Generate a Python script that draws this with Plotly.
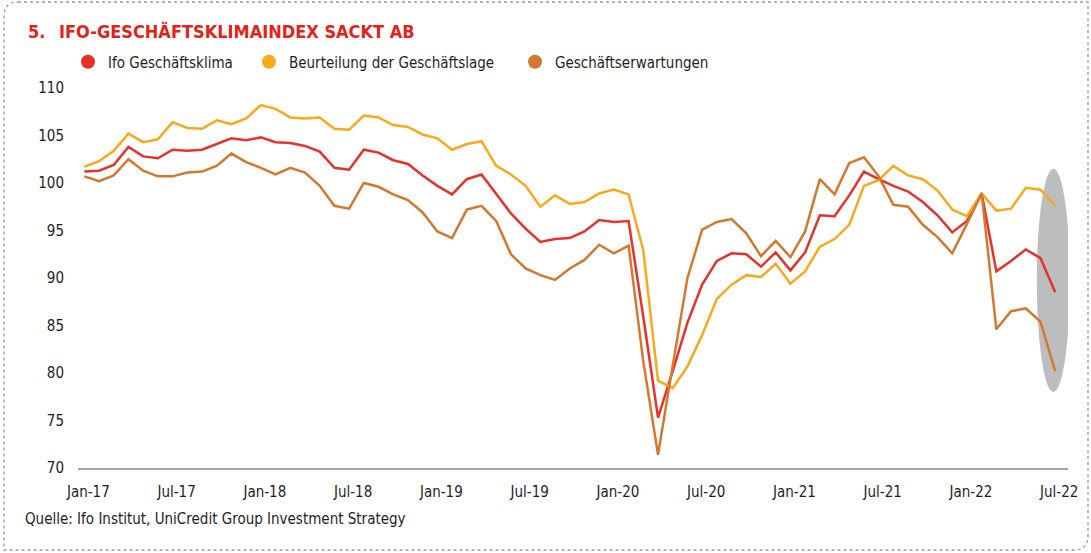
import plotly.graph_objects as go
import pandas as pd

# ---------------- data ----------------
MONTHS = [d.strftime("%b-%y") for d in pd.date_range("2017-01-01", "2022-07-01", freq="MS")]

KLIMA = [101.2, 101.3, 101.9, 103.8, 102.8, 102.6, 103.5, 103.4, 103.5, 104.1, 104.7, 104.5,
         104.8, 104.3, 104.2, 103.9, 103.3, 101.6, 101.4, 103.5, 103.2, 102.4, 102.0, 100.8,
         99.7, 98.8, 100.4, 100.9, 98.9, 96.8, 95.2, 93.8, 94.1, 94.2, 94.9, 96.1,
         95.9, 96.0, 85.9, 75.3, 80.2, 85.3, 89.3, 91.8, 92.6, 92.5, 91.2, 92.7,
         90.8, 92.7, 96.6, 96.5, 98.7, 101.2, 100.4, 99.7, 99.1, 98.0, 96.6, 94.8,
         96.0, 98.9, 90.7, 91.8, 93.0, 92.1, 88.5]

LAGE = [101.7, 102.3, 103.4, 105.2, 104.3, 104.6, 106.4, 105.8, 105.7, 106.6, 106.2, 106.8,
        108.2, 107.8, 106.9, 106.8, 106.9, 105.7, 105.6, 107.1, 106.9, 106.1, 105.9, 105.1,
        104.7, 103.5, 104.1, 104.4, 101.8, 100.9, 99.7, 97.5, 98.7, 97.8, 98.0, 98.9,
        99.3, 98.8, 92.9, 79.2, 78.4, 80.7, 84.0, 87.8, 89.3, 90.3, 90.1, 91.5,
        89.4, 90.7, 93.3, 94.1, 95.6, 99.7, 100.3, 101.8, 100.8, 100.4, 99.2, 97.2,
        96.5, 98.9, 97.1, 97.3, 99.5, 99.3, 97.6]

ERWARTUNGEN = [100.7, 100.2, 100.8, 102.5, 101.3, 100.7, 100.7, 101.1, 101.2, 101.8, 103.1, 102.2,
               101.6, 100.9, 101.6, 101.1, 99.7, 97.6, 97.3, 100.0, 99.6, 98.8, 98.2, 96.9,
               94.9, 94.2, 97.2, 97.6, 96.0, 92.5, 91.0, 90.3, 89.8, 91.0, 91.9, 93.5,
               92.6, 93.4, 81.2, 71.4, 80.8, 90.0, 95.1, 95.9, 96.2, 94.7, 92.3, 93.9,
               92.2, 94.9, 100.4, 98.8, 102.1, 102.7, 100.7, 97.7, 97.5, 95.6, 94.3, 92.6,
               95.7, 98.9, 84.6, 86.5, 86.8, 85.4, 80.2]

SERIES_NAMES = ["Ifo Geschäftsklima", "Beurteilung der Geschäftslage", "Geschäftserwartungen"]
TICK_LABELS = ["Jan-17", "Jul-17", "Jan-18", "Jul-18", "Jan-19", "Jul-19",
               "Jan-20", "Jul-20", "Jan-21", "Jul-21", "Jan-22", "Jul-22"]
Y_TICKS = [70, 75, 80, 85, 90, 95, 100, 105, 110]

COLORS = ["#E8312A", "#F9A91B", "#D5782E"]
FONT = "Liberation Sans Narrow, DejaVu Sans Condensed, Arial Narrow, sans-serif"
TEXT = "#1e1e1e"

W, H = 1091, 553
L, R, T, B = 78, 23, 88, 85
PW, PH = W - L - R, H - T - B


def px2paper(x, y):
    return (x - L) / PW, (H - B - y) / PH


fig = go.Figure()
x = list(range(len(MONTHS)))
for name, vals, col in zip(SERIES_NAMES, [KLIMA, LAGE, ERWARTUNGEN], COLORS):
    fig.add_trace(go.Scatter(x=x, y=vals, mode="lines", name=name,
                             line=dict(color=col, width=2.5), showlegend=False,
                             hovertemplate="%{text}: %{y}<extra>" + name + "</extra>",
                             text=MONTHS))

# legend entries (dot symbols), one legend each so they sit where the reference has them
LEGEND_X_PX = [68, 249, 515]
legend_layout = {}
for k, (name, col, lxp) in enumerate(zip(SERIES_NAMES, COLORS, LEGEND_X_PX)):
    key = "legend" if k == 0 else f"legend{k+1}"
    fig.add_trace(go.Scatter(x=[None], y=[None], mode="markers", name=name,
                             legend=key, marker=dict(color=col, size=14, symbol="circle")))
    lx, ly = px2paper(lxp, 62)
    legend_layout[key] = dict(orientation="h", x=lx, y=ly, xanchor="left", yanchor="middle",
                              font=dict(family=FONT, size=15, color=TEXT),
                              bgcolor="rgba(0,0,0,0)", itemclick=False, itemdoubleclick=False)

# highlight ellipse around the latest readings
n = len(MONTHS) - 1
last = [KLIMA[-1], LAGE[-1], ERWARTUNGEN[-1]]
fig.add_shape(type="circle", xref="x", yref="y", layer="below",
              x0=n - 1.25, x1=n + 1.0, y0=min(last) - 2.2, y1=max(last) + 3.9,
              fillcolor="#BCBDBF", line=dict(width=0))

# dotted frame with rounded corners (top-left, bottom-right)
x0, y0 = px2paper(4, 2)
x1, y1 = px2paper(1088, 550)
rx, ry = 14 / PW, 14 / PH
path = (f"M {x0+rx},{y0} L {x1},{y0} L {x1},{y1+ry} Q {x1},{y1} {x1-rx},{y1} "
        f"L {x0},{y1} L {x0},{y0-ry} Q {x0},{y0} {x0+rx},{y0} Z")
fig.add_shape(type="path", xref="paper", yref="paper", path=path,
              line=dict(color="#9A9A9A", width=1.3, dash="dot"), layer="below")

tx, ty = px2paper(26, 32)
fig.add_annotation(text="<b>5.</b>", xref="paper", yref="paper", x=tx, y=ty,
                   xanchor="left", yanchor="middle", showarrow=False,
                   font=dict(family=FONT, size=18, color="#E2231A"))
tx, ty = px2paper(57, 32)
fig.add_annotation(text="<b>IFO-GESCHÄFTSKLIMAINDEX SACKT AB</b>", xref="paper", yref="paper",
                   x=tx, y=ty, xanchor="left", yanchor="middle", showarrow=False,
                   font=dict(family=FONT, size=18, color="#E2231A"))
sx, sy = px2paper(23, 519)
fig.add_annotation(text="Quelle: Ifo Institut, UniCredit Group Investment Strategy",
                   xref="paper", yref="paper", x=sx, y=sy, xanchor="left", yanchor="middle",
                   showarrow=False, font=dict(family=FONT, size=15, color=TEXT))

fig.update_layout(
    width=W, height=H,
    margin=dict(l=L, r=R, t=T, b=B, autoexpand=False),
    paper_bgcolor="white", plot_bgcolor="white",
    font=dict(family=FONT, size=15, color=TEXT),
    showlegend=True,
    **legend_layout,
    xaxis=dict(range=[-0.43, 66.87], tickmode="array",
               tickvals=[MONTHS.index(t) for t in TICK_LABELS], ticktext=TICK_LABELS,
               showgrid=False, zeroline=False, showline=True, linecolor="#A6A6A6",
               linewidth=2, ticks="", ticklabelstandoff=9, ticklabelshift=4,
               tickfont=dict(family=FONT, size=15, color=TEXT)),
    yaxis=dict(range=[70, 110], tickmode="array", tickvals=Y_TICKS,
               showgrid=False, zeroline=False, showline=False, ticks="",
               ticklabelstandoff=13, tickfont=dict(family=FONT, size=15, color=TEXT)),
)

fig.write_html("out.html", config={"displayModeBar": False},
               post_script="document.body.style.margin='0';document.body.style.overflow='hidden';")
